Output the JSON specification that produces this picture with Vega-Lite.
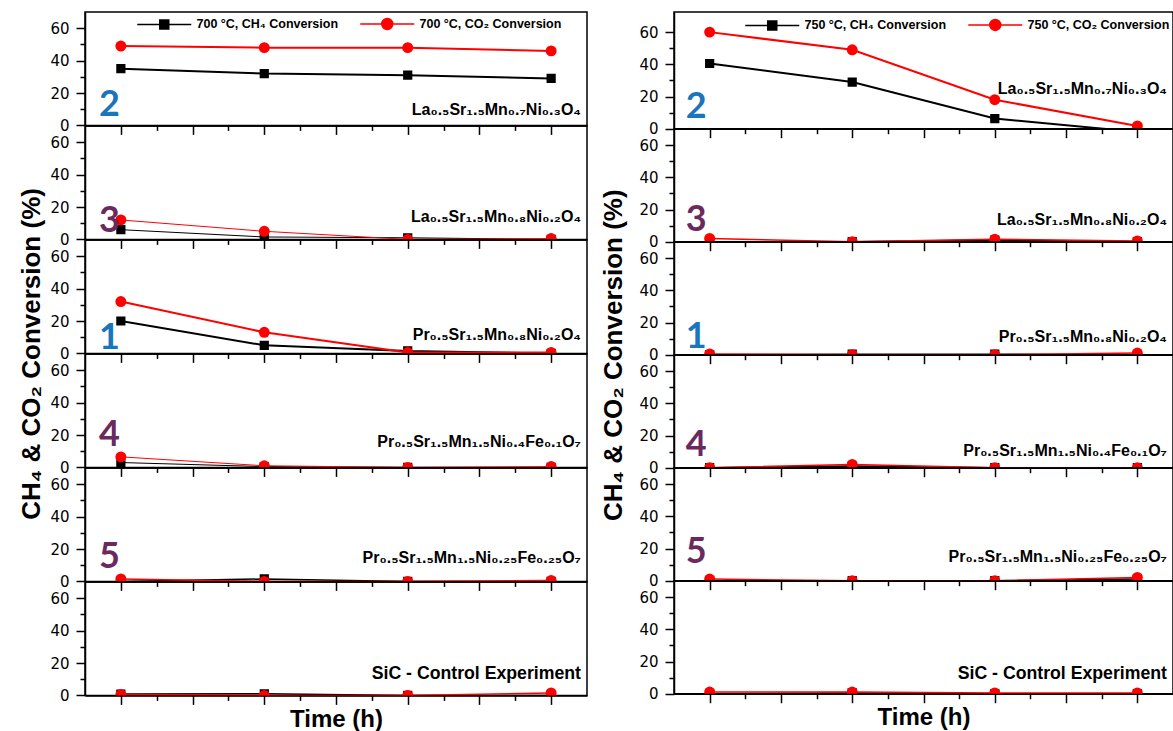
{
"$schema":"https://vega.github.io/schema/vega-lite/v6.json",
"background":"white",
"padding":{"left":18,"top":11,"right":0,"bottom":0},
"config":{"view":{"stroke":"black","strokeWidth":1.5},
"axis":{"domainColor":"black","domainWidth":1.5,"tickColor":"black","tickWidth":1.5,"labelFont":"DejaVu Sans","labelFontSize":15,"labelColor":"black","labelPadding":7,"labelFlush":false,"labelOverlap":false,"titleFont":"Liberation Sans","titleFontWeight":"bold","titleColor":"black","grid":false}},
"datasets":{
"pts":[
{"c":700,"p":1,"g":"CH4","t":1,"v":35},{"c":700,"p":1,"g":"CH4","t":3,"v":32},{"c":700,"p":1,"g":"CH4","t":5,"v":31},{"c":700,"p":1,"g":"CH4","t":7,"v":29},
{"c":700,"p":1,"g":"CO2","t":1,"v":49},{"c":700,"p":1,"g":"CO2","t":3,"v":48},{"c":700,"p":1,"g":"CO2","t":5,"v":48},{"c":700,"p":1,"g":"CO2","t":7,"v":46},
{"c":700,"p":2,"g":"CH4","t":1,"v":6},{"c":700,"p":2,"g":"CH4","t":3,"v":1.5},{"c":700,"p":2,"g":"CH4","t":5,"v":1},{"c":700,"p":2,"g":"CH4","t":7,"v":0},
{"c":700,"p":2,"g":"CO2","t":1,"v":12},{"c":700,"p":2,"g":"CO2","t":3,"v":5},{"c":700,"p":2,"g":"CO2","t":5,"v":0},{"c":700,"p":2,"g":"CO2","t":7,"v":0.5},
{"c":700,"p":3,"g":"CH4","t":1,"v":20},{"c":700,"p":3,"g":"CH4","t":3,"v":5},{"c":700,"p":3,"g":"CH4","t":5,"v":1.5},{"c":700,"p":3,"g":"CH4","t":7,"v":0},
{"c":700,"p":3,"g":"CO2","t":1,"v":32},{"c":700,"p":3,"g":"CO2","t":3,"v":13},{"c":700,"p":3,"g":"CO2","t":5,"v":0.5},{"c":700,"p":3,"g":"CO2","t":7,"v":0.5},
{"c":700,"p":4,"g":"CH4","t":1,"v":3},{"c":700,"p":4,"g":"CH4","t":3,"v":0.5},{"c":700,"p":4,"g":"CH4","t":5,"v":0},{"c":700,"p":4,"g":"CH4","t":7,"v":0},
{"c":700,"p":4,"g":"CO2","t":1,"v":6.5},{"c":700,"p":4,"g":"CO2","t":3,"v":1},{"c":700,"p":4,"g":"CO2","t":5,"v":0},{"c":700,"p":4,"g":"CO2","t":7,"v":0.5},
{"c":700,"p":5,"g":"CH4","t":1,"v":0},{"c":700,"p":5,"g":"CH4","t":3,"v":1.5},{"c":700,"p":5,"g":"CH4","t":5,"v":0},{"c":700,"p":5,"g":"CH4","t":7,"v":0},
{"c":700,"p":5,"g":"CO2","t":1,"v":1.5},{"c":700,"p":5,"g":"CO2","t":3,"v":0},{"c":700,"p":5,"g":"CO2","t":5,"v":0},{"c":700,"p":5,"g":"CO2","t":7,"v":0.5},
{"c":700,"p":6,"g":"CH4","t":1,"v":0.8},{"c":700,"p":6,"g":"CH4","t":3,"v":1},{"c":700,"p":6,"g":"CH4","t":5,"v":0},{"c":700,"p":6,"g":"CH4","t":7,"v":0},
{"c":700,"p":6,"g":"CO2","t":1,"v":0.5},{"c":700,"p":6,"g":"CO2","t":3,"v":0},{"c":700,"p":6,"g":"CO2","t":5,"v":0},{"c":700,"p":6,"g":"CO2","t":7,"v":1.5},
{"c":750,"p":1,"g":"CH4","t":1,"v":40.5},{"c":750,"p":1,"g":"CH4","t":3,"v":29},{"c":750,"p":1,"g":"CH4","t":5,"v":6.3},{"c":750,"p":1,"g":"CH4","t":7,"v":-2},
{"c":750,"p":1,"g":"CO2","t":1,"v":60},{"c":750,"p":1,"g":"CO2","t":3,"v":49},{"c":750,"p":1,"g":"CO2","t":5,"v":18},{"c":750,"p":1,"g":"CO2","t":7,"v":1.7},
{"c":750,"p":2,"g":"CH4","t":1,"v":0},{"c":750,"p":2,"g":"CH4","t":3,"v":0},{"c":750,"p":2,"g":"CH4","t":5,"v":1},{"c":750,"p":2,"g":"CH4","t":7,"v":0},
{"c":750,"p":2,"g":"CO2","t":1,"v":2},{"c":750,"p":2,"g":"CO2","t":3,"v":0},{"c":750,"p":2,"g":"CO2","t":5,"v":1.5},{"c":750,"p":2,"g":"CO2","t":7,"v":0.5},
{"c":750,"p":3,"g":"CH4","t":1,"v":0},{"c":750,"p":3,"g":"CH4","t":3,"v":0.3},{"c":750,"p":3,"g":"CH4","t":5,"v":0.3},{"c":750,"p":3,"g":"CH4","t":7,"v":0},
{"c":750,"p":3,"g":"CO2","t":1,"v":0.5},{"c":750,"p":3,"g":"CO2","t":3,"v":0},{"c":750,"p":3,"g":"CO2","t":5,"v":0},{"c":750,"p":3,"g":"CO2","t":7,"v":1},
{"c":750,"p":4,"g":"CH4","t":1,"v":0},{"c":750,"p":4,"g":"CH4","t":3,"v":1},{"c":750,"p":4,"g":"CH4","t":5,"v":0},{"c":750,"p":4,"g":"CH4","t":7,"v":0},
{"c":750,"p":4,"g":"CO2","t":1,"v":0},{"c":750,"p":4,"g":"CO2","t":3,"v":2},{"c":750,"p":4,"g":"CO2","t":5,"v":0},{"c":750,"p":4,"g":"CO2","t":7,"v":0},
{"c":750,"p":5,"g":"CH4","t":1,"v":0},{"c":750,"p":5,"g":"CH4","t":3,"v":0},{"c":750,"p":5,"g":"CH4","t":5,"v":0},{"c":750,"p":5,"g":"CH4","t":7,"v":1},
{"c":750,"p":5,"g":"CO2","t":1,"v":1},{"c":750,"p":5,"g":"CO2","t":3,"v":0},{"c":750,"p":5,"g":"CO2","t":5,"v":0},{"c":750,"p":5,"g":"CO2","t":7,"v":2},
{"c":750,"p":6,"g":"CH4","t":1,"v":0},{"c":750,"p":6,"g":"CH4","t":3,"v":0.5},{"c":750,"p":6,"g":"CH4","t":5,"v":0},{"c":750,"p":6,"g":"CH4","t":7,"v":0},
{"c":750,"p":6,"g":"CO2","t":1,"v":1},{"c":750,"p":6,"g":"CO2","t":3,"v":1},{"c":750,"p":6,"g":"CO2","t":5,"v":0.5},{"c":750,"p":6,"g":"CO2","t":7,"v":0.5}
],
"lab":[
{"p":1,"num":"2","f":"La₀.₅Sr₁.₅Mn₀.₇Ni₀.₃O₄"},
{"p":2,"num":"3","f":"La₀.₅Sr₁.₅Mn₀.₈Ni₀.₂O₄"},
{"p":3,"num":"1","f":"Pr₀.₅Sr₁.₅Mn₀.₈Ni₀.₂O₄"},
{"p":4,"num":"4","f":"Pr₀.₅Sr₁.₅Mn₁.₅Ni₀.₄Fe₀.₁O₇"},
{"p":5,"num":"5","f":"Pr₀.₅Sr₁.₅Mn₁.₅Ni₀.₂₅Fe₀.₂₅O₇"},
{"p":6,"num":"","f":"SiC - Control Experiment"}
]},
"spacing":12,
"resolve":{"scale":{"color":"independent"},"legend":{"color":"independent"}},
"hconcat":[
{"spacing":0,"bounds":"flush","resolve":{"legend":{"color":"independent"}},
"vconcat":[
{"width":502,"height":113.4,"resolve":{"axis":{"x":"independent","y":"independent"}},"layer":[
{"data":{"name":"pts"},"transform":[{"filter":"datum.c==700&&datum.p==1"}],"mark":{"type":"line","clip":true,"strokeWidth":2},
"encoding":{"x":{"field":"t","type":"quantitative","scale":{"domain":[0.5,7.5],"nice":false,"zero":false},"axis":{"orient":"bottom","values":[1,2,3,4,5,6,7],"tickSize":9,"labels":false,"title":null}},
"y":{"field":"v","type":"quantitative","scale":{"domain":[0,70],"nice":false,"zero":false},"axis":{"orient":"left","values":[0,20,40,60],"tickSize":9,"title":null}},
"color":{"field":"g","type":"nominal","scale":{"domain":["CH4","CO2"],"range":["black","red"]},
"legend":{"orient":"none","legendX":73,"legendY":5.6,"direction":"horizontal","title":null,"padding":0,"symbolSize":100,"labelOffset":26,"columnPadding":18,"labelFont":"Liberation Sans","labelFontWeight":"bold","labelFontSize":12.5,"labelColor":"black","labelLimit":300,
"labelExpr":"datum.label=='CH4' ? '700 °C, CH₄ Conversion' : '700 °C, CO₂ Conversion'",
"encode":{"symbols":{"update":{"shape":{"signal":"datum.index==0 ? 'M-5.4,0H5.4M-0.9,-0.9H0.9V0.9H-0.9Z' : 'M-5.4,0H5.4M1.1,0A1.1,1.1,0,1,1,-1.1,0A1.1,1.1,0,1,1,1.1,0'"},"fill":{"signal":"datum.index==0 ? 'black' : 'red'"},"stroke":{"signal":"datum.index==0 ? 'black' : 'red'"},"strokeWidth":{"value":1.5},"size":{"value":100},"opacity":{"value":1}}}}}}}},
{"data":{"name":"pts"},"transform":[{"filter":"datum.c==700&&datum.p==1&&datum.g=='CH4'"}],"mark":{"type":"square","clip":true,"size":85,"color":"black","opacity":1},
"encoding":{"x":{"field":"t","type":"quantitative","axis":{"orient":"bottom","values":[1.5,2.5,3.5,4.5,5.5,6.5],"tickSize":5,"labels":false,"title":null,"domain":false}},"y":{"field":"v","type":"quantitative","axis":{"orient":"left","values":[10,30,50],"tickSize":5,"labels":false,"title":null,"domain":false}}}},
{"data":{"name":"pts"},"transform":[{"filter":"datum.c==700&&datum.p==1&&datum.g=='CO2'"}],"mark":{"type":"circle","clip":true,"size":120,"color":"red","opacity":1},
"encoding":{"x":{"field":"t","type":"quantitative","axis":null},"y":{"field":"v","type":"quantitative","axis":null}}},
{"data":{"name":"lab"},"transform":[{"filter":"datum.p==1"}],"mark":{"type":"text","font":"Lato","fontWeight":"bold","fontSize":36,"align":"right","baseline":"alphabetic","color":"#1a75bb","dx":-1},
"encoding":{"x":{"datum":1,"type":"quantitative","axis":null},"y":{"datum":5.5,"type":"quantitative","axis":null},"text":{"field":"num"}}},
{"data":{"name":"lab"},"transform":[{"filter":"datum.p==1"}],"mark":{"type":"text","font":"Liberation Sans","fontWeight":"bold","fontSize":16,"align":"right","baseline":"alphabetic","color":"black","dx":-6},
"encoding":{"x":{"datum":7.5,"type":"quantitative","axis":null},"y":{"datum":6.6,"type":"quantitative","axis":null},"text":{"field":"f"}}}
]},
{"width":502,"height":113.4,"resolve":{"axis":{"x":"independent","y":"independent"}},"layer":[
{"data":{"name":"pts"},"transform":[{"filter":"datum.c==700&&datum.p==2"}],"mark":{"type":"line","clip":true,"strokeWidth":1},
"encoding":{"x":{"field":"t","type":"quantitative","scale":{"domain":[0.5,7.5],"nice":false,"zero":false},"axis":{"orient":"bottom","values":[1,2,3,4,5,6,7],"tickSize":9,"labels":false,"title":null}},
"y":{"field":"v","type":"quantitative","scale":{"domain":[0,70],"nice":false,"zero":false},"axis":{"orient":"left","values":[0,20,40,60],"tickSize":9,"title":null}},
"color":{"field":"g","type":"nominal","scale":{"domain":["CH4","CO2"],"range":["black","red"]},"legend":null}}},
{"data":{"name":"pts"},"transform":[{"filter":"datum.c==700&&datum.p==2&&datum.g=='CH4'"}],"mark":{"type":"square","clip":true,"size":85,"color":"black","opacity":1},
"encoding":{"x":{"field":"t","type":"quantitative","axis":{"orient":"bottom","values":[1.5,2.5,3.5,4.5,5.5,6.5],"tickSize":5,"labels":false,"title":null,"domain":false}},"y":{"field":"v","type":"quantitative","axis":{"orient":"left","values":[10,30,50],"tickSize":5,"labels":false,"title":null,"domain":false}}}},
{"data":{"name":"pts"},"transform":[{"filter":"datum.c==700&&datum.p==2&&datum.g=='CO2'"}],"mark":{"type":"circle","clip":true,"size":120,"color":"red","opacity":1},
"encoding":{"x":{"field":"t","type":"quantitative","axis":null},"y":{"field":"v","type":"quantitative","axis":null}}},
{"data":{"name":"lab"},"transform":[{"filter":"datum.p==2"}],"mark":{"type":"text","font":"Lato","fontWeight":"bold","fontSize":36,"align":"right","baseline":"alphabetic","color":"#6b2a5e","dx":-1},
"encoding":{"x":{"datum":1,"type":"quantitative","axis":null},"y":{"datum":4.8,"type":"quantitative","axis":null},"text":{"field":"num"}}},
{"data":{"name":"lab"},"transform":[{"filter":"datum.p==2"}],"mark":{"type":"text","font":"Liberation Sans","fontWeight":"bold","fontSize":16,"align":"right","baseline":"alphabetic","color":"black","dx":-6},
"encoding":{"x":{"datum":7.5,"type":"quantitative","axis":null},"y":{"datum":11,"type":"quantitative","axis":null},"text":{"field":"f"}}}
]},
{"width":502,"height":113.4,"resolve":{"axis":{"x":"independent","y":"independent"}},"layer":[
{"data":{"name":"pts"},"transform":[{"filter":"datum.c==700&&datum.p==3"}],"mark":{"type":"line","clip":true,"strokeWidth":2},
"encoding":{"x":{"field":"t","type":"quantitative","scale":{"domain":[0.5,7.5],"nice":false,"zero":false},"axis":{"orient":"bottom","values":[1,2,3,4,5,6,7],"tickSize":9,"labels":false,"title":null}},
"y":{"field":"v","type":"quantitative","scale":{"domain":[0,70],"nice":false,"zero":false},"axis":{"orient":"left","values":[0,20,40,60],"tickSize":9,"title":"CH₄ & CO₂ Conversion (%)","titleFontSize":26,"titleY":113.4,"titlePadding":5}},
"color":{"field":"g","type":"nominal","scale":{"domain":["CH4","CO2"],"range":["black","red"]},"legend":null}}},
{"data":{"name":"pts"},"transform":[{"filter":"datum.c==700&&datum.p==3&&datum.g=='CH4'"}],"mark":{"type":"square","clip":true,"size":85,"color":"black","opacity":1},
"encoding":{"x":{"field":"t","type":"quantitative","axis":{"orient":"bottom","values":[1.5,2.5,3.5,4.5,5.5,6.5],"tickSize":5,"labels":false,"title":null,"domain":false}},"y":{"field":"v","type":"quantitative","axis":{"orient":"left","values":[10,30,50],"tickSize":5,"labels":false,"title":null,"domain":false}}}},
{"data":{"name":"pts"},"transform":[{"filter":"datum.c==700&&datum.p==3&&datum.g=='CO2'"}],"mark":{"type":"circle","clip":true,"size":120,"color":"red","opacity":1},
"encoding":{"x":{"field":"t","type":"quantitative","axis":null},"y":{"field":"v","type":"quantitative","axis":null}}},
{"data":{"name":"lab"},"transform":[{"filter":"datum.p==3"}],"mark":{"type":"text","font":"Lato","fontWeight":"bold","fontSize":36,"align":"right","baseline":"alphabetic","color":"#1a75bb","dx":-1},
"encoding":{"x":{"datum":1,"type":"quantitative","axis":null},"y":{"datum":2.6,"type":"quantitative","axis":null},"text":{"field":"num"}}},
{"data":{"name":"lab"},"transform":[{"filter":"datum.p==3"}],"mark":{"type":"text","font":"Liberation Sans","fontWeight":"bold","fontSize":16,"align":"right","baseline":"alphabetic","color":"black","dx":-6},
"encoding":{"x":{"datum":7.5,"type":"quantitative","axis":null},"y":{"datum":8,"type":"quantitative","axis":null},"text":{"field":"f"}}}
]},
{"width":502,"height":113.4,"resolve":{"axis":{"x":"independent","y":"independent"}},"layer":[
{"data":{"name":"pts"},"transform":[{"filter":"datum.c==700&&datum.p==4"}],"mark":{"type":"line","clip":true,"strokeWidth":1},
"encoding":{"x":{"field":"t","type":"quantitative","scale":{"domain":[0.5,7.5],"nice":false,"zero":false},"axis":{"orient":"bottom","values":[1,2,3,4,5,6,7],"tickSize":9,"labels":false,"title":null}},
"y":{"field":"v","type":"quantitative","scale":{"domain":[0,70],"nice":false,"zero":false},"axis":{"orient":"left","values":[0,20,40,60],"tickSize":9,"title":null}},
"color":{"field":"g","type":"nominal","scale":{"domain":["CH4","CO2"],"range":["black","red"]},"legend":null}}},
{"data":{"name":"pts"},"transform":[{"filter":"datum.c==700&&datum.p==4&&datum.g=='CH4'"}],"mark":{"type":"square","clip":true,"size":85,"color":"black","opacity":1},
"encoding":{"x":{"field":"t","type":"quantitative","axis":{"orient":"bottom","values":[1.5,2.5,3.5,4.5,5.5,6.5],"tickSize":5,"labels":false,"title":null,"domain":false}},"y":{"field":"v","type":"quantitative","axis":{"orient":"left","values":[10,30,50],"tickSize":5,"labels":false,"title":null,"domain":false}}}},
{"data":{"name":"pts"},"transform":[{"filter":"datum.c==700&&datum.p==4&&datum.g=='CO2'"}],"mark":{"type":"circle","clip":true,"size":120,"color":"red","opacity":1},
"encoding":{"x":{"field":"t","type":"quantitative","axis":null},"y":{"field":"v","type":"quantitative","axis":null}}},
{"data":{"name":"lab"},"transform":[{"filter":"datum.p==4"}],"mark":{"type":"text","font":"Lato","fontWeight":"bold","fontSize":36,"align":"right","baseline":"alphabetic","color":"#6b2a5e","dx":-1},
"encoding":{"x":{"datum":1,"type":"quantitative","axis":null},"y":{"datum":13.4,"type":"quantitative","axis":null},"text":{"field":"num"}}},
{"data":{"name":"lab"},"transform":[{"filter":"datum.p==4"}],"mark":{"type":"text","font":"Liberation Sans","fontWeight":"bold","fontSize":16,"align":"right","baseline":"alphabetic","color":"black","dx":-6},
"encoding":{"x":{"datum":7.5,"type":"quantitative","axis":null},"y":{"datum":12.3,"type":"quantitative","axis":null},"text":{"field":"f"}}}
]},
{"width":502,"height":113.4,"resolve":{"axis":{"x":"independent","y":"independent"}},"layer":[
{"data":{"name":"pts"},"transform":[{"filter":"datum.c==700&&datum.p==5"}],"mark":{"type":"line","clip":true,"strokeWidth":1.5},
"encoding":{"x":{"field":"t","type":"quantitative","scale":{"domain":[0.5,7.5],"nice":false,"zero":false},"axis":{"orient":"bottom","values":[1,2,3,4,5,6,7],"tickSize":9,"labels":false,"title":null}},
"y":{"field":"v","type":"quantitative","scale":{"domain":[0,70],"nice":false,"zero":false},"axis":{"orient":"left","values":[0,20,40,60],"tickSize":9,"title":null}},
"color":{"field":"g","type":"nominal","scale":{"domain":["CH4","CO2"],"range":["black","red"]},"legend":null}}},
{"data":{"name":"pts"},"transform":[{"filter":"datum.c==700&&datum.p==5&&datum.g=='CH4'"}],"mark":{"type":"square","clip":true,"size":85,"color":"black","opacity":1},
"encoding":{"x":{"field":"t","type":"quantitative","axis":{"orient":"bottom","values":[1.5,2.5,3.5,4.5,5.5,6.5],"tickSize":5,"labels":false,"title":null,"domain":false}},"y":{"field":"v","type":"quantitative","axis":{"orient":"left","values":[10,30,50],"tickSize":5,"labels":false,"title":null,"domain":false}}}},
{"data":{"name":"pts"},"transform":[{"filter":"datum.c==700&&datum.p==5&&datum.g=='CO2'"}],"mark":{"type":"circle","clip":true,"size":120,"color":"red","opacity":1},
"encoding":{"x":{"field":"t","type":"quantitative","axis":null},"y":{"field":"v","type":"quantitative","axis":null}}},
{"data":{"name":"lab"},"transform":[{"filter":"datum.p==5"}],"mark":{"type":"text","font":"Lato","fontWeight":"bold","fontSize":36,"align":"right","baseline":"alphabetic","color":"#6b2a5e","dx":-1},
"encoding":{"x":{"datum":1,"type":"quantitative","axis":null},"y":{"datum":8.5,"type":"quantitative","axis":null},"text":{"field":"num"}}},
{"data":{"name":"lab"},"transform":[{"filter":"datum.p==5"}],"mark":{"type":"text","font":"Liberation Sans","fontWeight":"bold","fontSize":16,"align":"right","baseline":"alphabetic","color":"black","dx":-6},
"encoding":{"x":{"datum":7.5,"type":"quantitative","axis":null},"y":{"datum":11.4,"type":"quantitative","axis":null},"text":{"field":"f"}}}
]},
{"width":502,"height":113.4,"resolve":{"axis":{"x":"independent","y":"independent"}},"layer":[
{"data":{"name":"pts"},"transform":[{"filter":"datum.c==700&&datum.p==6"}],"mark":{"type":"line","clip":true,"strokeWidth":1.5},
"encoding":{"x":{"field":"t","type":"quantitative","scale":{"domain":[0.5,7.5],"nice":false,"zero":false},"axis":{"orient":"bottom","values":[1,2,3,4,5,6,7],"tickSize":9,"labels":false,"title":"Time (h)","titleFontSize":24,"titlePadding":2}},
"y":{"field":"v","type":"quantitative","scale":{"domain":[0,70],"nice":false,"zero":false},"axis":{"orient":"left","values":[0,20,40,60],"tickSize":9,"title":null}},
"color":{"field":"g","type":"nominal","scale":{"domain":["CH4","CO2"],"range":["black","red"]},"legend":null}}},
{"data":{"name":"pts"},"transform":[{"filter":"datum.c==700&&datum.p==6&&datum.g=='CH4'"}],"mark":{"type":"square","clip":true,"size":85,"color":"black","opacity":1},
"encoding":{"x":{"field":"t","type":"quantitative","axis":{"orient":"bottom","values":[1.5,2.5,3.5,4.5,5.5,6.5],"tickSize":5,"labels":false,"title":null,"domain":false}},"y":{"field":"v","type":"quantitative","axis":{"orient":"left","values":[10,30,50],"tickSize":5,"labels":false,"title":null,"domain":false}}}},
{"data":{"name":"pts"},"transform":[{"filter":"datum.c==700&&datum.p==6&&datum.g=='CO2'"}],"mark":{"type":"circle","clip":true,"size":120,"color":"red","opacity":1},
"encoding":{"x":{"field":"t","type":"quantitative","axis":null},"y":{"field":"v","type":"quantitative","axis":null}}},
{"data":{"name":"lab"},"transform":[{"filter":"datum.p==6"}],"mark":{"type":"text","font":"Liberation Sans","fontWeight":"bold","fontSize":17.7,"align":"right","baseline":"alphabetic","color":"black","dx":-6},
"encoding":{"x":{"datum":7.5,"type":"quantitative","axis":null},"y":{"datum":10.3,"type":"quantitative","axis":null},"text":{"field":"f"}}}
]}
]},
{"spacing":0,"bounds":"flush","resolve":{"legend":{"color":"independent"}},
"vconcat":[
{"width":499,"height":116.7,"resolve":{"axis":{"x":"independent","y":"independent"}},"layer":[
{"data":{"name":"pts"},"transform":[{"filter":"datum.c==750&&datum.p==1"}],"mark":{"type":"line","clip":true,"strokeWidth":2},
"encoding":{"x":{"field":"t","type":"quantitative","scale":{"domain":[0.5,7.5],"nice":false,"zero":false},"axis":{"orient":"bottom","values":[1,2,3,4,5,6,7],"tickSize":9,"labels":false,"title":null}},
"y":{"field":"v","type":"quantitative","scale":{"domain":[0,72.5],"nice":false,"zero":false},"axis":{"orient":"left","values":[0,20,40,60],"tickSize":9,"title":null}},
"color":{"field":"g","type":"nominal","scale":{"domain":["CH4","CO2"],"range":["black","red"]},
"legend":{"orient":"none","legendX":92,"legendY":6.5,"direction":"horizontal","title":null,"padding":0,"symbolSize":100,"labelOffset":26,"columnPadding":18,"labelFont":"Liberation Sans","labelFontWeight":"bold","labelFontSize":12.5,"labelColor":"black","labelLimit":300,
"labelExpr":"datum.label=='CH4' ? '750 °C, CH₄ Conversion' : '750 °C, CO₂ Conversion'",
"encode":{"symbols":{"update":{"shape":{"signal":"datum.index==0 ? 'M-5.4,0H5.4M-0.9,-0.9H0.9V0.9H-0.9Z' : 'M-5.4,0H5.4M1.1,0A1.1,1.1,0,1,1,-1.1,0A1.1,1.1,0,1,1,1.1,0'"},"fill":{"signal":"datum.index==0 ? 'black' : 'red'"},"stroke":{"signal":"datum.index==0 ? '#777777' : '#ff7a7a'"},"strokeWidth":{"value":1.5},"size":{"value":100},"opacity":{"value":1}}}}}}}},
{"data":{"name":"pts"},"transform":[{"filter":"datum.c==750&&datum.p==1&&datum.g=='CH4'"}],"mark":{"type":"square","clip":true,"size":85,"color":"black","opacity":1},
"encoding":{"x":{"field":"t","type":"quantitative","axis":{"orient":"bottom","values":[1.5,2.5,3.5,4.5,5.5,6.5],"tickSize":5,"labels":false,"title":null,"domain":false}},"y":{"field":"v","type":"quantitative","axis":{"orient":"left","values":[10,30,50],"tickSize":5,"labels":false,"title":null,"domain":false}}}},
{"data":{"name":"pts"},"transform":[{"filter":"datum.c==750&&datum.p==1&&datum.g=='CO2'"}],"mark":{"type":"circle","clip":true,"size":120,"color":"red","opacity":1},
"encoding":{"x":{"field":"t","type":"quantitative","axis":null},"y":{"field":"v","type":"quantitative","axis":null}}},
{"data":{"name":"lab"},"transform":[{"filter":"datum.p==1"}],"mark":{"type":"text","font":"Lato","fontWeight":"bold","fontSize":36,"align":"right","baseline":"alphabetic","color":"#1a75bb","dx":-3},
"encoding":{"x":{"datum":1,"type":"quantitative","axis":null},"y":{"datum":6.9,"type":"quantitative","axis":null},"text":{"field":"num"}}},
{"data":{"name":"lab"},"transform":[{"filter":"datum.p==1"}],"mark":{"type":"text","font":"Liberation Sans","fontWeight":"bold","fontSize":16,"align":"right","baseline":"alphabetic","color":"black","dx":-6},
"encoding":{"x":{"datum":7.5,"type":"quantitative","axis":null},"y":{"datum":21.5,"type":"quantitative","axis":null},"text":{"field":"f"}}}
]},
{"width":499,"height":112.7,"resolve":{"axis":{"x":"independent","y":"independent"}},"layer":[
{"data":{"name":"pts"},"transform":[{"filter":"datum.c==750&&datum.p==2"}],"mark":{"type":"line","clip":true,"strokeWidth":1.5},
"encoding":{"x":{"field":"t","type":"quantitative","scale":{"domain":[0.5,7.5],"nice":false,"zero":false},"axis":{"orient":"bottom","values":[1,2,3,4,5,6,7],"tickSize":9,"labels":false,"title":null}},
"y":{"field":"v","type":"quantitative","scale":{"domain":[0,70],"nice":false,"zero":false},"axis":{"orient":"left","values":[0,20,40,60],"tickSize":9,"title":null}},
"color":{"field":"g","type":"nominal","scale":{"domain":["CH4","CO2"],"range":["black","red"]},"legend":null}}},
{"data":{"name":"pts"},"transform":[{"filter":"datum.c==750&&datum.p==2&&datum.g=='CH4'"}],"mark":{"type":"square","clip":true,"size":85,"color":"black","opacity":1},
"encoding":{"x":{"field":"t","type":"quantitative","axis":{"orient":"bottom","values":[1.5,2.5,3.5,4.5,5.5,6.5],"tickSize":5,"labels":false,"title":null,"domain":false}},"y":{"field":"v","type":"quantitative","axis":{"orient":"left","values":[10,30,50],"tickSize":5,"labels":false,"title":null,"domain":false}}}},
{"data":{"name":"pts"},"transform":[{"filter":"datum.c==750&&datum.p==2&&datum.g=='CO2'"}],"mark":{"type":"circle","clip":true,"size":120,"color":"red","opacity":1},
"encoding":{"x":{"field":"t","type":"quantitative","axis":null},"y":{"field":"v","type":"quantitative","axis":null}}},
{"data":{"name":"lab"},"transform":[{"filter":"datum.p==2"}],"mark":{"type":"text","font":"Lato","fontWeight":"bold","fontSize":36,"align":"right","baseline":"alphabetic","color":"#6b2a5e","dx":-3},
"encoding":{"x":{"datum":1,"type":"quantitative","axis":null},"y":{"datum":6.7,"type":"quantitative","axis":null},"text":{"field":"num"}}},
{"data":{"name":"lab"},"transform":[{"filter":"datum.p==2"}],"mark":{"type":"text","font":"Liberation Sans","fontWeight":"bold","fontSize":16,"align":"right","baseline":"alphabetic","color":"black","dx":-6},
"encoding":{"x":{"datum":7.5,"type":"quantitative","axis":null},"y":{"datum":10.4,"type":"quantitative","axis":null},"text":{"field":"f"}}}
]},
{"width":499,"height":112.7,"resolve":{"axis":{"x":"independent","y":"independent"}},"layer":[
{"data":{"name":"pts"},"transform":[{"filter":"datum.c==750&&datum.p==3"}],"mark":{"type":"line","clip":true,"strokeWidth":1.5},
"encoding":{"x":{"field":"t","type":"quantitative","scale":{"domain":[0.5,7.5],"nice":false,"zero":false},"axis":{"orient":"bottom","values":[1,2,3,4,5,6,7],"tickSize":9,"labels":false,"title":null}},
"y":{"field":"v","type":"quantitative","scale":{"domain":[0,70],"nice":false,"zero":false},"axis":{"orient":"left","values":[0,20,40,60],"tickSize":9,"title":"CH₄ & CO₂ Conversion (%)","titleFontSize":26,"titleY":112.7,"titlePadding":12}},
"color":{"field":"g","type":"nominal","scale":{"domain":["CH4","CO2"],"range":["black","red"]},"legend":null}}},
{"data":{"name":"pts"},"transform":[{"filter":"datum.c==750&&datum.p==3&&datum.g=='CH4'"}],"mark":{"type":"square","clip":true,"size":85,"color":"black","opacity":1},
"encoding":{"x":{"field":"t","type":"quantitative","axis":{"orient":"bottom","values":[1.5,2.5,3.5,4.5,5.5,6.5],"tickSize":5,"labels":false,"title":null,"domain":false}},"y":{"field":"v","type":"quantitative","axis":{"orient":"left","values":[10,30,50],"tickSize":5,"labels":false,"title":null,"domain":false}}}},
{"data":{"name":"pts"},"transform":[{"filter":"datum.c==750&&datum.p==3&&datum.g=='CO2'"}],"mark":{"type":"circle","clip":true,"size":120,"color":"red","opacity":1},
"encoding":{"x":{"field":"t","type":"quantitative","axis":null},"y":{"field":"v","type":"quantitative","axis":null}}},
{"data":{"name":"lab"},"transform":[{"filter":"datum.p==3"}],"mark":{"type":"text","font":"Lato","fontWeight":"bold","fontSize":36,"align":"right","baseline":"alphabetic","color":"#1a75bb","dx":-3},
"encoding":{"x":{"datum":1,"type":"quantitative","axis":null},"y":{"datum":4.4,"type":"quantitative","axis":null},"text":{"field":"num"}}},
{"data":{"name":"lab"},"transform":[{"filter":"datum.p==3"}],"mark":{"type":"text","font":"Liberation Sans","fontWeight":"bold","fontSize":16,"align":"right","baseline":"alphabetic","color":"black","dx":-6},
"encoding":{"x":{"datum":7.5,"type":"quantitative","axis":null},"y":{"datum":8,"type":"quantitative","axis":null},"text":{"field":"f"}}}
]},
{"width":499,"height":112.7,"resolve":{"axis":{"x":"independent","y":"independent"}},"layer":[
{"data":{"name":"pts"},"transform":[{"filter":"datum.c==750&&datum.p==4"}],"mark":{"type":"line","clip":true,"strokeWidth":1.5},
"encoding":{"x":{"field":"t","type":"quantitative","scale":{"domain":[0.5,7.5],"nice":false,"zero":false},"axis":{"orient":"bottom","values":[1,2,3,4,5,6,7],"tickSize":9,"labels":false,"title":null}},
"y":{"field":"v","type":"quantitative","scale":{"domain":[0,70],"nice":false,"zero":false},"axis":{"orient":"left","values":[0,20,40,60],"tickSize":9,"title":null}},
"color":{"field":"g","type":"nominal","scale":{"domain":["CH4","CO2"],"range":["black","red"]},"legend":null}}},
{"data":{"name":"pts"},"transform":[{"filter":"datum.c==750&&datum.p==4&&datum.g=='CH4'"}],"mark":{"type":"square","clip":true,"size":85,"color":"black","opacity":1},
"encoding":{"x":{"field":"t","type":"quantitative","axis":{"orient":"bottom","values":[1.5,2.5,3.5,4.5,5.5,6.5],"tickSize":5,"labels":false,"title":null,"domain":false}},"y":{"field":"v","type":"quantitative","axis":{"orient":"left","values":[10,30,50],"tickSize":5,"labels":false,"title":null,"domain":false}}}},
{"data":{"name":"pts"},"transform":[{"filter":"datum.c==750&&datum.p==4&&datum.g=='CO2'"}],"mark":{"type":"circle","clip":true,"size":120,"color":"red","opacity":1},
"encoding":{"x":{"field":"t","type":"quantitative","axis":null},"y":{"field":"v","type":"quantitative","axis":null}}},
{"data":{"name":"lab"},"transform":[{"filter":"datum.p==4"}],"mark":{"type":"text","font":"Lato","fontWeight":"bold","fontSize":36,"align":"right","baseline":"alphabetic","color":"#6b2a5e","dx":-3},
"encoding":{"x":{"datum":1,"type":"quantitative","axis":null},"y":{"datum":7.3,"type":"quantitative","axis":null},"text":{"field":"num"}}},
{"data":{"name":"lab"},"transform":[{"filter":"datum.p==4"}],"mark":{"type":"text","font":"Liberation Sans","fontWeight":"bold","fontSize":16,"align":"right","baseline":"alphabetic","color":"black","dx":-6},
"encoding":{"x":{"datum":7.5,"type":"quantitative","axis":null},"y":{"datum":7.3,"type":"quantitative","axis":null},"text":{"field":"f"}}}
]},
{"width":499,"height":112.7,"resolve":{"axis":{"x":"independent","y":"independent"}},"layer":[
{"data":{"name":"pts"},"transform":[{"filter":"datum.c==750&&datum.p==5"}],"mark":{"type":"line","clip":true,"strokeWidth":1.5},
"encoding":{"x":{"field":"t","type":"quantitative","scale":{"domain":[0.5,7.5],"nice":false,"zero":false},"axis":{"orient":"bottom","values":[1,2,3,4,5,6,7],"tickSize":9,"labels":false,"title":null}},
"y":{"field":"v","type":"quantitative","scale":{"domain":[0,70],"nice":false,"zero":false},"axis":{"orient":"left","values":[0,20,40,60],"tickSize":9,"title":null}},
"color":{"field":"g","type":"nominal","scale":{"domain":["CH4","CO2"],"range":["black","red"]},"legend":null}}},
{"data":{"name":"pts"},"transform":[{"filter":"datum.c==750&&datum.p==5&&datum.g=='CH4'"}],"mark":{"type":"square","clip":true,"size":85,"color":"black","opacity":1},
"encoding":{"x":{"field":"t","type":"quantitative","axis":{"orient":"bottom","values":[1.5,2.5,3.5,4.5,5.5,6.5],"tickSize":5,"labels":false,"title":null,"domain":false}},"y":{"field":"v","type":"quantitative","axis":{"orient":"left","values":[10,30,50],"tickSize":5,"labels":false,"title":null,"domain":false}}}},
{"data":{"name":"pts"},"transform":[{"filter":"datum.c==750&&datum.p==5&&datum.g=='CO2'"}],"mark":{"type":"circle","clip":true,"size":120,"color":"red","opacity":1},
"encoding":{"x":{"field":"t","type":"quantitative","axis":null},"y":{"field":"v","type":"quantitative","axis":null}}},
{"data":{"name":"lab"},"transform":[{"filter":"datum.p==5"}],"mark":{"type":"text","font":"Lato","fontWeight":"bold","fontSize":36,"align":"right","baseline":"alphabetic","color":"#6b2a5e","dx":-3},
"encoding":{"x":{"datum":1,"type":"quantitative","axis":null},"y":{"datum":11,"type":"quantitative","axis":null},"text":{"field":"num"}}},
{"data":{"name":"lab"},"transform":[{"filter":"datum.p==5"}],"mark":{"type":"text","font":"Liberation Sans","fontWeight":"bold","fontSize":16,"align":"right","baseline":"alphabetic","color":"black","dx":-6},
"encoding":{"x":{"datum":7.5,"type":"quantitative","axis":null},"y":{"datum":11.4,"type":"quantitative","axis":null},"text":{"field":"f"}}}
]},
{"width":499,"height":112.7,"resolve":{"axis":{"x":"independent","y":"independent"}},"layer":[
{"data":{"name":"pts"},"transform":[{"filter":"datum.c==750&&datum.p==6"}],"mark":{"type":"line","clip":true,"strokeWidth":1.5},
"encoding":{"x":{"field":"t","type":"quantitative","scale":{"domain":[0.5,7.5],"nice":false,"zero":false},"axis":{"orient":"bottom","values":[1,2,3,4,5,6,7],"tickSize":9,"labels":false,"title":"Time (h)","titleFontSize":24,"titlePadding":2}},
"y":{"field":"v","type":"quantitative","scale":{"domain":[0,70],"nice":false,"zero":false},"axis":{"orient":"left","values":[0,20,40,60],"tickSize":9,"title":null}},
"color":{"field":"g","type":"nominal","scale":{"domain":["CH4","CO2"],"range":["black","red"]},"legend":null}}},
{"data":{"name":"pts"},"transform":[{"filter":"datum.c==750&&datum.p==6&&datum.g=='CH4'"}],"mark":{"type":"square","clip":true,"size":85,"color":"black","opacity":1},
"encoding":{"x":{"field":"t","type":"quantitative","axis":{"orient":"bottom","values":[1.5,2.5,3.5,4.5,5.5,6.5],"tickSize":5,"labels":false,"title":null,"domain":false}},"y":{"field":"v","type":"quantitative","axis":{"orient":"left","values":[10,30,50],"tickSize":5,"labels":false,"title":null,"domain":false}}}},
{"data":{"name":"pts"},"transform":[{"filter":"datum.c==750&&datum.p==6&&datum.g=='CO2'"}],"mark":{"type":"circle","clip":true,"size":120,"color":"red","opacity":1},
"encoding":{"x":{"field":"t","type":"quantitative","axis":null},"y":{"field":"v","type":"quantitative","axis":null}}},
{"data":{"name":"lab"},"transform":[{"filter":"datum.p==6"}],"mark":{"type":"text","font":"Liberation Sans","fontWeight":"bold","fontSize":17.7,"align":"right","baseline":"alphabetic","color":"black","dx":-6},
"encoding":{"x":{"datum":7.5,"type":"quantitative","axis":null},"y":{"datum":8.9,"type":"quantitative","axis":null},"text":{"field":"f"}}}
]}
]}
]
}
